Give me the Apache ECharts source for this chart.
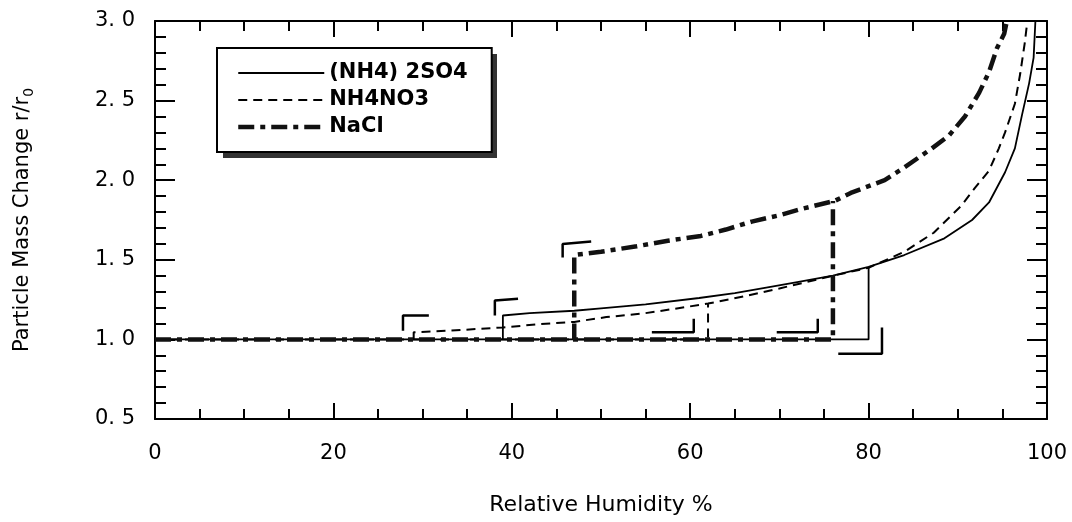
<!DOCTYPE html>
<html>
<head>
<meta charset="utf-8">
<script src="https://cdn.jsdelivr.net/npm/echarts@6/dist/echarts.min.js"></script>
<style>
  html, body { margin: 0; padding: 0; background: #fff; }
  #main { width: 1072px; height: 522px; }
</style>
</head>
<body>
<div id="main"></div>
<script>
// 数据：相对湿度(%) 与 颗粒物质量变化 r/r0
var seriesNames = ['(NH4) 2SO4', 'NH4NO3', 'NaCl'];
var xTicks = [0, 20, 40, 60, 80, 100];
var yTicks = [0.5, 1.0, 1.5, 2.0, 2.5, 3.0];

// (NH4)2SO4
var sulfateLower = [[0, 1.0], [80, 1.0], [80, 1.455]];
var sulfateUpper = [[39, 1.0], [39, 1.15], [42, 1.165], [47, 1.18], [50, 1.195], [55, 1.22], [61, 1.26],
  [65, 1.29], [69, 1.33], [72, 1.36], [76, 1.40], [80, 1.455], [84, 1.53], [88.5, 1.635], [91.6, 1.75],
  [93.5, 1.86], [95.3, 2.05], [96.4, 2.2], [97.2, 2.41], [98, 2.61], [98.5, 2.77], [98.7, 3.0]];

// NH4NO3
var nitrateLower = [[0, 1.0], [62, 1.0], [62, 1.225]];
var nitrateUpper = [[29, 1.0], [29, 1.045], [33, 1.055], [36, 1.065], [39, 1.075], [43, 1.095], [47, 1.11],
  [50.6, 1.14], [55, 1.165], [58, 1.19], [62, 1.225], [66, 1.27], [70, 1.32], [73, 1.36], [76, 1.40],
  [80, 1.45], [84, 1.55], [87.3, 1.67], [90.4, 1.84], [91.9, 1.95], [93.5, 2.06], [94.6, 2.2], [95.3, 2.3],
  [96.4, 2.48], [97, 2.67], [97.5, 2.86], [97.8, 3.0]];

// NaCl
var naclLower = [[0, 1.0], [76, 1.0], [76, 1.87]];
var naclUpper = [[47, 1.0], [47, 1.53], [50, 1.55], [54, 1.585], [57.5, 1.62], [61.2, 1.65], [64, 1.69],
  [66.9, 1.74], [70, 1.78], [72.5, 1.82], [76.2, 1.87], [78, 1.92], [81.8, 2.0], [84, 2.08], [87.1, 2.2],
  [89, 2.28], [90.8, 2.40], [92.4, 2.55], [93.5, 2.68], [94.4, 2.83], [95.2, 2.92], [95.5, 3.0]];

// 折线上的方向标记（小折角）
var markerPaths = [
  [[27.8, 1.055], [27.8, 1.15], [30.7, 1.15]],
  [[38.1, 1.15], [38.1, 1.245], [40.7, 1.255]],
  [[45.7, 1.515], [45.7, 1.60], [48.9, 1.615]],
  [[55.7, 1.045], [60.4, 1.045], [60.4, 1.13]],
  [[69.7, 1.045], [74.3, 1.045], [74.3, 1.13]],
  [[76.6, 0.91], [81.5, 0.91], [81.5, 1.075]]
];

function joinPaths(paths) {
  var out = [];
  paths.forEach(function (p, i) {
    if (i > 0) out.push(['-', '-']);
    p.forEach(function (pt) { out.push(pt); });
  });
  return out;
}

var font = "'DejaVu Sans', sans-serif";
var myChart = echarts.init(document.getElementById('main'), null, { renderer: 'canvas' });

function axisX(pos, showLabel) {
  return {
    type: 'value', position: pos, min: 0, max: 100, interval: 20,
    axisLine: { show: true, onZero: false, lineStyle: { color: '#000', width: 2 } },
    axisTick: { show: true, inside: true, length: 16, lineStyle: { color: '#000', width: 2 } },
    minorTick: { show: true, splitNumber: 4, length: 10, lineStyle: { color: '#000', width: 2 } },
    splitLine: { show: false },
    axisLabel: {
      show: showLabel, margin: 24, color: '#000', fontSize: 21, fontFamily: font,
      formatter: function (v) { return xTicks.indexOf(v) >= 0 ? String(v) : ''; }
    },
    name: showLabel ? 'Relative Humidity %' : '', nameLocation: 'middle', nameGap: 75,
    nameTextStyle: { color: '#000', fontSize: 22, fontFamily: font }
  };
}

function axisY(pos, showLabel) {
  return {
    type: 'value', position: pos, min: 0.5, max: 3.0, interval: 0.5,
    axisLine: { show: true, onZero: false, lineStyle: { color: '#000', width: 2 } },
    axisTick: { show: true, inside: true, length: 20, lineStyle: { color: '#000', width: 2 } },
    minorTick: { show: true, splitNumber: 5, length: 11, lineStyle: { color: '#000', width: 2 } },
    splitLine: { show: false },
    axisLabel: {
      show: showLabel, margin: 20, color: '#000', fontSize: 21, fontFamily: font,
      formatter: function (v) {
        var s = v.toFixed(1);
        return yTicks.indexOf(v) >= 0 ? s.replace('.', '. ') : '';
      }
    },
    name: showLabel ? 'Particle Mass Change r/r{s|0}' : '', nameLocation: 'middle', nameGap: 119,
    nameTextStyle: {
      color: '#000', fontSize: 21, fontFamily: font,
      rich: { s: { fontSize: 14, fontFamily: font, color: '#000', padding: [13, 0, 0, 0] } }
    }
  };
}

var series = [
  {
    name: seriesNames[0], type: 'line', symbol: 'none', connectNulls: false,
    data: joinPaths([sulfateLower, sulfateUpper]),
    lineStyle: { color: '#000', width: 1.8, type: 'solid' }, itemStyle: { color: '#000' }
  },
  {
    name: seriesNames[1], type: 'line', symbol: 'none', connectNulls: false,
    data: joinPaths([nitrateLower, nitrateUpper]),
    lineStyle: { color: '#000', width: 2, type: [9, 6] }, itemStyle: { color: '#000' }
  },
  {
    name: seriesNames[2], type: 'line', symbol: 'none', connectNulls: false,
    data: joinPaths([naclLower, naclUpper]),
    lineStyle: { color: '#111', width: 4.5, type: [16, 6, 5, 6] }, itemStyle: { color: '#111' }
  },
  {
    name: 'markers', type: 'line', symbol: 'none', silent: true, connectNulls: false,
    data: joinPaths(markerPaths),
    lineStyle: { color: '#000', width: 2.5 }, itemStyle: { color: '#000' }
  }
];

var option = {
  backgroundColor: '#fff',
  animation: false,
  grid: { left: 155, right: 25, top: 21, bottom: 103 },
  xAxis: [axisX('bottom', true), axisX('top', false)],
  yAxis: [axisY('left', true), axisY('right', false)],
  // 图例阴影
  graphic: [{
    type: 'rect', left: 223, top: 54, z: 1, silent: true,
    shape: { width: 274, height: 104 },
    style: { fill: '#333' }
  }],
  legend: {
    data: seriesNames, orient: 'vertical', left: 217, top: 48, z: 5,
    padding: [14, 24, 14, 19], itemGap: 5, itemWidth: 86, itemHeight: 14,
    backgroundColor: '#fff', borderColor: '#000', borderWidth: 2, borderRadius: 0,
    itemStyle: { opacity: 0 },
    lineStyle: { width: 'inherit', type: 'inherit' },
    textStyle: { color: '#000', fontSize: 21, fontWeight: 'bold', fontFamily: font, lineHeight: 22 }
  },
  series: series
};

myChart.setOption(option);
</script>
</body>
</html>
